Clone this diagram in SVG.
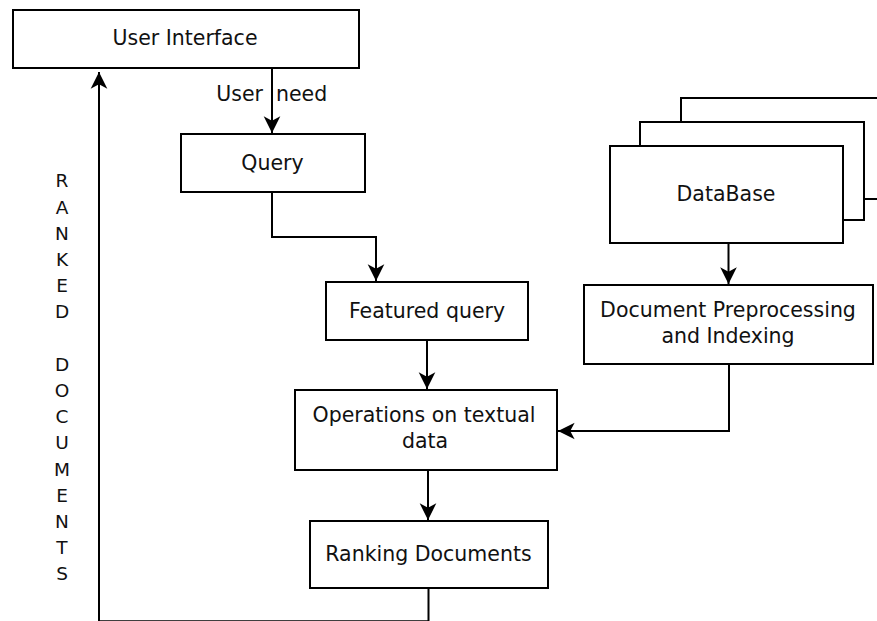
<svg xmlns="http://www.w3.org/2000/svg" width="877" height="621" viewBox="0 0 877 621">
  <style>
    .box { fill: #ffffff; stroke: #000000; stroke-width: 2; }
    .lbl { font-family: "DejaVu Sans", "Liberation Sans", sans-serif; font-size: 20.5px; fill: #111111; text-anchor: middle; }
    .vert { font-family: "DejaVu Sans", "Liberation Sans", sans-serif; font-size: 18.5px; fill: #111111; text-anchor: middle; }
    .wire { fill: none; stroke: #000000; stroke-width: 2; }
  </style>
  <defs>
    <marker id="arrow" markerUnits="userSpaceOnUse" markerWidth="20" markerHeight="20" viewBox="-17 -9 18 18" refX="0" refY="0" orient="auto">
      <path d="M0,0 L-15,-7.5 L-11,0 L-15,7.5 Z" fill="#000000"/>
    </marker>
  </defs>
  <rect width="877" height="621" fill="#ffffff"/>

  <g id="user-interface">
    <rect class="box" x="13" y="10" width="346" height="58"/>
    <text class="lbl" x="185" y="45">User Interface</text>
  </g>

  <g id="query">
    <rect class="box" x="181" y="134" width="184" height="58"/>
    <text class="lbl" x="272.5" y="170">Query</text>
  </g>

  <g id="featured-query">
    <rect class="box" x="326" y="282" width="202" height="58"/>
    <text class="lbl" x="427" y="318">Featured query</text>
  </g>

  <g id="operations">
    <rect class="box" x="295" y="390" width="262" height="80"/>
    <text class="lbl" x="424" y="422">Operations on textual</text>
    <text class="lbl" x="425" y="448">data</text>
  </g>

  <g id="ranking">
    <rect class="box" x="310" y="521" width="238" height="67"/>
    <text class="lbl" x="428.5" y="561">Ranking Documents</text>
  </g>

  <g id="database">
    <rect class="box" x="681" y="98" width="250" height="101"/>
    <rect class="box" x="640" y="122" width="224" height="98"/>
    <rect class="box" x="610" y="146" width="233" height="97"/>
    <text class="lbl" x="726" y="201">DataBase</text>
  </g>

  <g id="preprocessing">
    <rect class="box" x="584" y="285" width="289" height="79"/>
    <text class="lbl" x="728" y="317">Document Preprocessing</text>
    <text class="lbl" x="728" y="343">and Indexing</text>
  </g>

  <g id="connectors">
    <path class="wire" d="M272,69 V133" marker-end="url(#arrow)"/>
    <path class="wire" d="M272,193 V237 H376 V281" marker-end="url(#arrow)"/>
    <path class="wire" d="M427,341 V389" marker-end="url(#arrow)"/>
    <path class="wire" d="M428,471 V520" marker-end="url(#arrow)"/>
    <path class="wire" d="M728.5,244 V284" marker-end="url(#arrow)"/>
    <path class="wire" d="M729,365 V431 H558" marker-end="url(#arrow)"/>
    <path class="wire" d="M428.5,589 V621.2 H99 V72" marker-end="url(#arrow)"/>
    <text class="lbl" y="101"><tspan x="263" text-anchor="end">User</tspan><tspan x="276" text-anchor="start">need</tspan></text>
  </g>

  <g id="ranked-documents-label">
    <text class="vert" x="62" y="187.3">R</text>
    <text class="vert" x="62" y="213.5">A</text>
    <text class="vert" x="62" y="239.7">N</text>
    <text class="vert" x="62" y="265.9">K</text>
    <text class="vert" x="62" y="292.1">E</text>
    <text class="vert" x="62" y="318.3">D</text>
    <text class="vert" x="62" y="370.7">D</text>
    <text class="vert" x="62" y="396.9">O</text>
    <text class="vert" x="62" y="423.1">C</text>
    <text class="vert" x="62" y="449.3">U</text>
    <text class="vert" x="62" y="475.5">M</text>
    <text class="vert" x="62" y="501.7">E</text>
    <text class="vert" x="62" y="527.9">N</text>
    <text class="vert" x="62" y="554.1">T</text>
    <text class="vert" x="62" y="580.3">S</text>
  </g>
</svg>
